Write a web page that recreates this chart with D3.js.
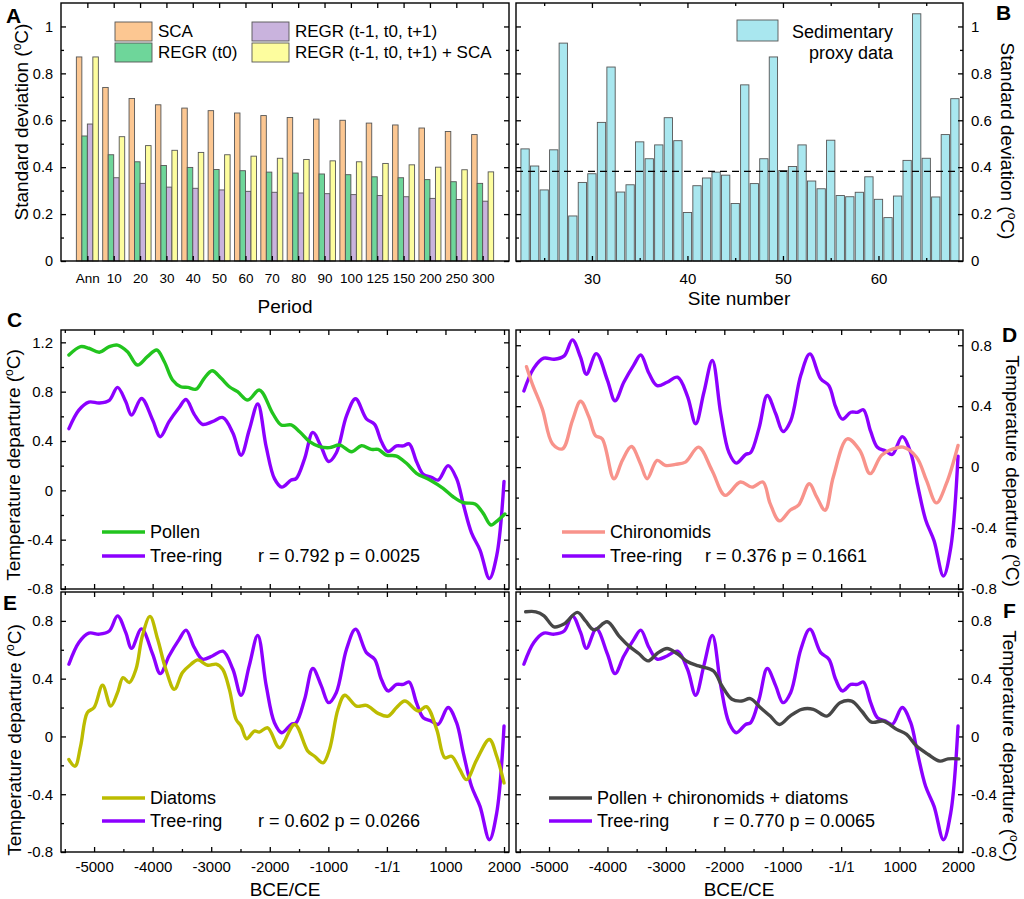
<!DOCTYPE html>
<html>
<head>
<meta charset="utf-8">
<script src="https://cdn.jsdelivr.net/npm/d3@7"></script>
<style>
  body { margin: 0; background: #fff; }
</style>
</head>
<body>
<script>
// ---- data ----
const periodLabels = ["Ann", "10", "20", "30", "40", "50", "60", "70", "80", "90", "100", "125", "150", "200", "250", "300"];
const barSeries = ["SCA", "REGR (t0)", "REGR (t-1, t0, t+1)", "REGR (t-1, t0, t+1) + SCA"];
const barColors = ["#fcc792", "#6ed69a", "#c9b3dd", "#fdfd9e"];
const scaVals = [0.87, 0.74, 0.693, 0.666, 0.652, 0.641, 0.631, 0.62, 0.612, 0.605, 0.60, 0.588, 0.58, 0.567, 0.552, 0.539];
const regrT0Vals = [0.533, 0.453, 0.423, 0.407, 0.399, 0.39, 0.385, 0.379, 0.375, 0.371, 0.368, 0.359, 0.355, 0.347, 0.338, 0.331];
const regr3Vals = [0.584, 0.355, 0.331, 0.315, 0.31, 0.303, 0.297, 0.293, 0.29, 0.287, 0.283, 0.279, 0.274, 0.267, 0.262, 0.255];
const regr3ScaVals = [0.87, 0.53, 0.492, 0.472, 0.463, 0.453, 0.447, 0.438, 0.433, 0.427, 0.423, 0.416, 0.41, 0.40, 0.389, 0.38];

const sites = d3.range(23, 69);
const sedVals = [0.478, 0.405, 0.303, 0.474, 0.929, 0.192, 0.335, 0.372, 0.591, 0.827,
  0.294, 0.325, 0.508, 0.436, 0.495, 0.611, 0.513, 0.207, 0.321, 0.354,
  0.379, 0.366, 0.245, 0.751, 0.33, 0.436, 0.87, 0.386, 0.403, 0.495,
  0.341, 0.308, 0.515, 0.279, 0.274, 0.293, 0.359, 0.263, 0.185, 0.277,
  0.429, 1.054, 0.438, 0.273, 0.539, 0.692];
const sedMean = 0.382;

const treeYears = [-5430, -5260, -5090, -4910, -4740, -4600, -4460, -4360, -4190, -4000, -3870, -3720, -3550, -3430, -3290, -3150, -2980, -2800, -2630, -2490, -2350, -2205, -2060, -1920, -1795, -1635, -1550, -1405, -1265, -1120, -995, -865, -690, -535, -350, -210, -95, 20, 165, 280, 380, 505, 620, 760, 875, 1045, 1190, 1305, 1445, 1590, 1750, 1875, 2000];
const treeVals = [0.50, 0.65, 0.715, 0.708, 0.73, 0.835, 0.72, 0.61, 0.745, 0.57, 0.435, 0.557, 0.67, 0.736, 0.616, 0.535, 0.557, 0.59, 0.465, 0.285, 0.49, 0.70, 0.35, 0.095, 0.026, 0.083, 0.095, 0.257, 0.47, 0.35, 0.234, 0.303, 0.604, 0.743, 0.58, 0.535, 0.396, 0.315, 0.36, 0.36, 0.377, 0.234, 0.13, 0.106, 0.083, 0.20, 0.095, -0.113, -0.345, -0.484, -0.715, -0.53, 0.072];

const pollenYears = [-5430, -5230, -5090, -4910, -4740, -4600, -4430, -4260, -4090, -3930, -3800, -3660, -3520, -3400, -3260, -3120, -2985, -2830, -2690, -2550, -2375, -2176, -1950, -1805, -1635, -1490, -1320, -1150, -980, -805, -605, -435, -265, -150, -10, 165, 335, 505, 735, 960, 1130, 1305, 1505, 1645, 1775, 1900, 2015];
const pollenVals = [1.097, 1.165, 1.152, 1.12, 1.165, 1.178, 1.124, 1.016, 1.084, 1.138, 1.043, 0.895, 0.84, 0.835, 0.82, 0.908, 0.97, 0.908, 0.84, 0.80, 0.732, 0.813, 0.624, 0.53, 0.53, 0.475, 0.394, 0.354, 0.346, 0.367, 0.313, 0.362, 0.332, 0.332, 0.286, 0.278, 0.219, 0.138, 0.084, 0.016, -0.052, -0.10, -0.111, -0.187, -0.281, -0.241, -0.192];

const chiroYears = [-5385, -5285, -5115, -4940, -4770, -4600, -4460, -4315, -4205, -4090, -3890, -3745, -3590, -3435, -3320, -3150, -3010, -2835, -2665, -2440, -2210, -1985, -1725, -1525, -1340, -1215, -1055, -875, -730, -545, -420, -275, -135, 105, 320, 495, 690, 890, 1060, 1290, 1460, 1630, 1800, 2000];
const chiroVals = [0.659, 0.545, 0.382, 0.153, 0.12, 0.305, 0.432, 0.327, 0.207, 0.186, -0.076, 0.044, 0.135, 0.022, -0.076, 0.044, 0.011, 0.018, 0.033, 0.131, -0.022, -0.185, -0.098, -0.131, -0.098, -0.24, -0.353, -0.283, -0.25, -0.109, -0.196, -0.283, -0.065, 0.186, 0.109, -0.043, 0.077, 0.12, 0.131, 0.065, -0.087, -0.235, -0.109, 0.142];

const diaYears = [-5430, -5325, -5230, -5115, -5000, -4855, -4715, -4600, -4505, -4400, -4285, -4175, -4045, -3915, -3775, -3630, -3490, -3345, -3230, -3060, -2915, -2805, -2690, -2575, -2490, -2395, -2262, -2180, -2035, -1835, -1575, -1350, -1235, -1090, -980, -835, -720, -520, -350, -150, 20, 165, 305, 535, 675, 850, 990, 1105, 1245, 1360, 1535, 1750, 1875, 2000];
const diaVals = [-0.16, -0.206, -0.067, 0.165, 0.20, 0.354, 0.21, 0.303, 0.407, 0.373, 0.465, 0.697, 0.831, 0.674, 0.465, 0.326, 0.442, 0.50, 0.53, 0.493, 0.50, 0.465, 0.326, 0.118, 0.072, -0.016, 0.037, 0.03, 0.06, -0.078, 0.083, -0.102, -0.137, -0.183, -0.09, 0.188, 0.285, 0.21, 0.215, 0.16, 0.141, 0.20, 0.245, 0.176, 0.206, 0.049, -0.148, -0.137, -0.229, -0.299, -0.16, -0.021, -0.137, -0.322];

const combYears = [-5400, -5225, -5085, -4915, -4745, -4515, -4375, -4230, -4005, -3805, -3635, -3465, -3305, -3150, -2980, -2810, -2635, -2440, -2185, -2040, -1870, -1700, -1555, -1370, -1215, -1055, -875, -675, -475, -245, -20, 180, 350, 520, 720, 950, 1120, 1290, 1490, 1690, 1830, 2015];
const combVals = [0.863, 0.863, 0.835, 0.759, 0.778, 0.859, 0.80, 0.738, 0.794, 0.697, 0.627, 0.574, 0.523, 0.574, 0.609, 0.574, 0.519, 0.488, 0.453, 0.349, 0.257, 0.245, 0.262, 0.195, 0.141, 0.083, 0.141, 0.188, 0.188, 0.141, 0.234, 0.245, 0.176, 0.099, 0.106, 0.049, 0.014, -0.067, -0.125, -0.171, -0.155, -0.155];

const timeTicks = [-5000, -4000, -3000, -2000, -1000, 0, 1000, 2000];
const timeTickLabels = ["-5000", "-4000", "-3000", "-2000", "-1000", "-1/1", "1000", "2000"];
const timeMinor = [-5500, -4500, -3500, -2500, -1500, -500, 500, 1500];

const treeColor = "#8c00ff";

// ---- layout ----
const FONT = "'Liberation Sans', Arial, Helvetica, sans-serif";
const colL = [61, 509], colR = [516, 963];
const rowA = [3, 261], rowC = [330, 589], rowE = [592, 852];

const svg = d3.select("body").append("svg")
  .attr("width", 1024).attr("height", 899)
  .style("font-family", FONT);

const num = d => String(+d.toFixed(1));

function frame(xr, yr) {
  svg.append("rect")
    .attr("x", xr[0]).attr("y", yr[0])
    .attr("width", xr[1] - xr[0]).attr("height", yr[1] - yr[0])
    .attr("fill", "none").attr("stroke", "#000").attr("stroke-width", 1.4);
}

function axis(orient, scale, pos, values, size, fmt, pad, fs) {
  const make = { left: d3.axisLeft, right: d3.axisRight, top: d3.axisTop, bottom: d3.axisBottom }[orient];
  const gen = make(scale).tickValues(values).tickSize(-size)
    .tickPadding(pad || 8).tickFormat(fmt || (() => ""));
  const vert = orient === "left" || orient === "right";
  const g = svg.append("g")
    .attr("transform", vert ? `translate(${pos},0)` : `translate(0,${pos})`)
    .call(gen)
    .attr("font-size", fs || 15).attr("font-family", FONT);
  g.select(".domain").remove();
  g.selectAll("line").attr("stroke", "#000").attr("stroke-width", 1.3);
  g.selectAll("text").attr("fill", "#000");
  return g;
}

function degTitle(x, y, rot, base, size) {
  const t = svg.append("text")
    .attr("transform", `translate(${x},${y}) rotate(${rot})`)
    .attr("text-anchor", "middle").attr("font-size", size || 19).attr("fill", "#000");
  t.append("tspan").text(base + " (");
  t.append("tspan").attr("font-size", 12).attr("dy", -7).text("o");
  t.append("tspan").attr("dy", 7).text("C)");
}

function label(txt, x, y, size, anchor, weight) {
  return svg.append("text").attr("x", x).attr("y", y)
    .attr("font-size", size).attr("text-anchor", anchor || "start")
    .attr("font-weight", weight || "normal").attr("fill", "#000").text(txt);
}

// ---- panel A ----
const xA = d3.scaleLinear().domain([-1, 16]).range(colL);
const yA = d3.scaleLinear().domain([0, 1.1]).range([rowA[1], rowA[0]]);
const barW = 5.5;
const aSeries = [scaVals, regrT0Vals, regr3Vals, regr3ScaVals];

aSeries.forEach((vals, k) => {
  svg.append("g").selectAll("rect").data(vals).join("rect")
    .attr("x", (d, i) => xA(i) + (k - 2) * barW)
    .attr("y", d => yA(d))
    .attr("width", barW)
    .attr("height", d => yA(0) - yA(d))
    .attr("fill", barColors[k]).attr("stroke", "#555").attr("stroke-width", 0.9);
});

const yMajorA = [0, 0.2, 0.4, 0.6, 0.8, 1];
const yMinorA = [0.1, 0.3, 0.5, 0.7, 0.9];
const periodIdx = d3.range(periodLabels.length);
frame(colL, rowA);
axis("left", yA, colL[0], yMajorA, 5, num, 8, 14.5);
axis("left", yA, colL[0], yMinorA, 3);
axis("right", yA, colL[1], yMajorA, 5);
axis("right", yA, colL[1], yMinorA, 3);
axis("top", xA, rowA[0], periodIdx, 5);
axis("bottom", xA, rowA[1], periodIdx, 5, i => periodLabels[i], 12, 13.5);

// legend A
barSeries.forEach((name, k) => {
  const col = Math.floor(k / 2), row = k % 2;
  const lx = col === 0 ? 115 : 252;
  const ly = 22 + row * 21;
  svg.append("rect").attr("x", lx).attr("y", ly).attr("width", 37).attr("height", 19)
    .attr("fill", barColors[k]).attr("stroke", "#555").attr("stroke-width", 0.9);
  label(name, lx + 43, ly + 9.5, 17).attr("dy", "0.35em");
});
label("A", 6, 23, 21, "start", "bold");
degTitle(28, 122, -90, "Standard deviation");
label("Period", 285, 313, 19, "middle");

// ---- panel B ----
const xB = d3.scaleLinear().domain([22.05, 68.85]).range(colR);
const yB = d3.scaleLinear().domain([0, 1.1]).range([rowA[1], rowA[0]]);
const bw = 0.87 * (xB(1) - xB(0));

svg.append("g").selectAll("rect").data(sedVals).join("rect")
  .attr("x", (d, i) => xB(sites[i]) - bw / 2)
  .attr("y", d => yB(d))
  .attr("width", bw)
  .attr("height", d => yB(0) - yB(d))
  .attr("fill", "#a9e7ef").attr("stroke", "#555").attr("stroke-width", 0.9);

svg.append("line")
  .attr("x1", colR[0]).attr("x2", colR[1])
  .attr("y1", yB(sedMean)).attr("y2", yB(sedMean))
  .attr("stroke", "#000").attr("stroke-width", 1.4).attr("stroke-dasharray", "7,5");

frame(colR, rowA);
axis("left", yB, colR[0], yMajorA, 5);
axis("left", yB, colR[0], yMinorA, 3);
axis("right", yB, colR[1], yMajorA, 5, num);
axis("right", yB, colR[1], yMinorA, 3);
axis("top", xB, rowA[0], [30, 40, 50, 60], 5);
axis("top", xB, rowA[0], [25, 35, 45, 55, 65], 3);
axis("bottom", xB, rowA[1], [30, 40, 50, 60], 5, d => d, 12);
axis("bottom", xB, rowA[1], [25, 35, 45, 55, 65], 3);

svg.append("rect").attr("x", 737).attr("y", 20).attr("width", 41).attr("height", 21)
  .attr("fill", "#a9e7ef").attr("stroke", "#555").attr("stroke-width", 0.9);
label("Sedimentary", 893, 32, 18, "end").attr("dy", "0.35em");
label("proxy data", 893, 53, 18, "end").attr("dy", "0.35em");
label("B", 996, 20, 21, "start", "bold");
degTitle(1001, 141, 90, "Standard deviation");
label("Site number", 739, 305, 19, "middle");

// ---- line panels ----
const xTL = d3.scaleLinear().domain([-5565, 2085]).range(colL);
const xTR = d3.scaleLinear().domain([-5565, 2085]).range(colR);

function linePanel(xs, yr, domain, yMajor, yMinor, labelSide, bottomLabels) {
  const y = d3.scaleLinear().domain(domain).range([yr[1], yr[0]]);
  frame(xs.range(), yr);
  const [xl, xr] = xs.range();
  axis("left", y, xl, yMajor, 5, labelSide === "left" ? num : null);
  axis("left", y, xl, yMinor, 3);
  axis("right", y, xr, yMajor, 5, labelSide === "right" ? num : null);
  axis("right", y, xr, yMinor, 3);
  axis("top", xs, yr[0], timeTicks, 5);
  axis("top", xs, yr[0], timeMinor, 3);
  axis("bottom", xs, yr[1], timeTicks, 5,
    bottomLabels ? (d => timeTickLabels[timeTicks.indexOf(d)]) : null, 9);
  axis("bottom", xs, yr[1], timeMinor, 3);
  return y;
}

function drawLine(xs, y, years, vals, color) {
  const line = d3.line().x(d => xs(d[0])).y(d => y(d[1])).curve(d3.curveCatmullRom.alpha(0.5));
  svg.append("path").datum(d3.zip(years, vals))
    .attr("d", line).attr("fill", "none")
    .attr("stroke", color).attr("stroke-width", 3.4)
    .attr("stroke-linejoin", "round").attr("stroke-linecap", "round");
}

function legend(x, ys, names, colors, rText, rx) {
  names.forEach((n, i) => {
    svg.append("line").attr("x1", x).attr("x2", x + 43).attr("y1", ys[i]).attr("y2", ys[i])
      .attr("stroke", colors[i]).attr("stroke-width", 3.6);
    label(n, x + 48, ys[i], 18).attr("dy", "0.35em");
  });
  label(rText, rx, ys[1], 18).attr("dy", "0.35em");
}

const minor8 = [-0.6, -0.2, 0.2, 0.6];
const major8 = [-0.8, -0.4, 0, 0.4, 0.8];

// C
const yC = linePanel(xTL, rowC, [-0.8, 1.3], [-0.8, -0.4, 0, 0.4, 0.8, 1.2], [-0.6, -0.2, 0.2, 0.6, 1.0], "left", false);
drawLine(xTL, yC, treeYears, treeVals, treeColor);
drawLine(xTL, yC, pollenYears, pollenVals, "#22c41e");
legend(102, [532, 556], ["Pollen", "Tree-ring"], ["#22c41e", treeColor], "r = 0.792 p = 0.0025", 258);
label("C", 7, 327, 21, "start", "bold");
degTitle(20, 465, -90, "Temperature departure");

// D
const yD = linePanel(xTR, rowC, [-0.8, 0.9], major8, minor8, "right", false);
drawLine(xTR, yD, treeYears, treeVals, treeColor);
drawLine(xTR, yD, chiroYears, chiroVals, "#f8938b");
legend(562, [532, 556], ["Chironomids", "Tree-ring"], ["#f8938b", treeColor], "r = 0.376 p = 0.1661", 705);
label("D", 1002, 342, 21, "start", "bold");
degTitle(1006, 471, 90, "Temperature departure");

// E
const yE = linePanel(xTL, rowE, [-0.8, 1.0], major8, minor8, "left", true);
drawLine(xTL, yE, treeYears, treeVals, treeColor);
drawLine(xTL, yE, diaYears, diaVals, "#bcbc00");
legend(102, [798, 821], ["Diatoms", "Tree-ring"], ["#bcbc00", treeColor], "r = 0.602 p = 0.0266", 258);
label("E", 3, 610, 21, "start", "bold");
degTitle(21, 740, -90, "Temperature departure");
label("BCE/CE", 285, 896, 19, "middle");

// F
const yF = linePanel(xTR, rowE, [-0.8, 1.0], major8, minor8, "right", true);
drawLine(xTR, yF, treeYears, treeVals, treeColor);
drawLine(xTR, yF, combYears, combVals, "#474747");
legend(549, [798, 821], ["Pollen + chironomids + diatoms", "Tree-ring"], ["#474747", treeColor], "r = 0.770 p = 0.0065", 713);
label("F", 1003, 618, 21, "start", "bold");
degTitle(1003, 746, 90, "Temperature departure");
label("BCE/CE", 739, 896, 19, "middle");
</script>
</body>
</html>
